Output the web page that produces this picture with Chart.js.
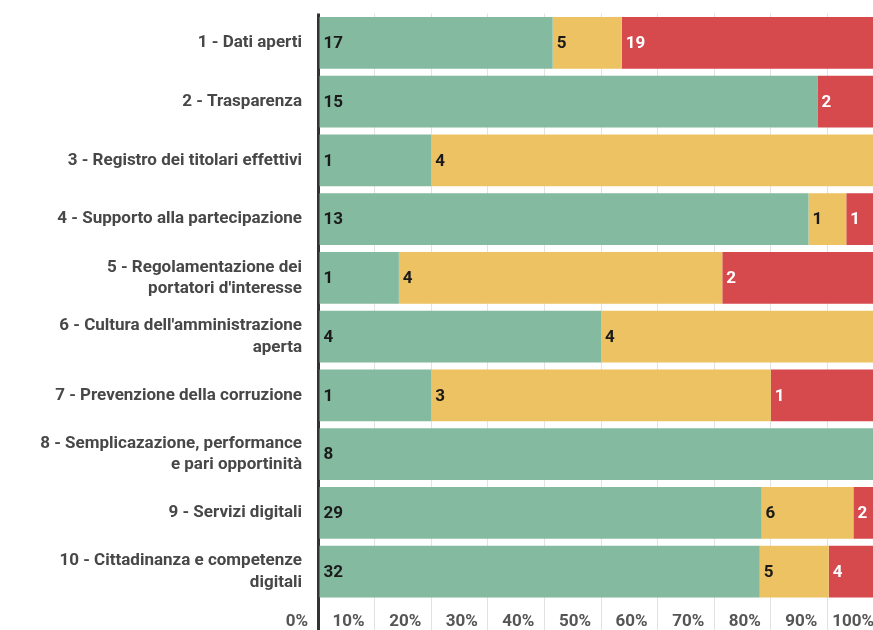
<!DOCTYPE html>
<html>
<head>
<meta charset="utf-8">
<script src="https://cdn.jsdelivr.net/npm/chart.js@4"></script>
<style>
  html, body { margin: 0; padding: 0; background: #fff; }
  #wrap { width: 873px; height: 630px; overflow: hidden; position: relative; }
  #box { width: 890px; height: 630px; position: absolute; left: 0; top: 0; }
</style>
</head>
<body>
<div id="wrap"><div id="box"><canvas id="grafico"></canvas></div></div>
<script>
// dati del grafico
const categorie = [
  '1 - Dati aperti',
  '2 - Trasparenza',
  '3 - Registro dei titolari effettivi',
  '4 - Supporto alla partecipazione',
  ['5 - Regolamentazione dei', "portatori d'interesse"],
  ["6 - Cultura dell'amministrazione", 'aperta'],
  '7 - Prevenzione della corruzione',
  ['8 - Semplicazazione, performance', 'e pari opportinità'],
  '9 - Servizi digitali',
  ['10 - Cittadinanza e competenze', 'digitali']
];
const verdi = [17, 15, 1, 13, 1, 4, 1, 8, 29, 32];
const gialli = [5, 0, 4, 1, 4, 4, 3, 0, 6, 5];
const rossi = [19, 2, 0, 1, 2, 0, 1, 0, 2, 4];
const tickPercentuali = [0, 10, 20, 30, 40, 50, 60, 70, 80, 90, 100];

const totali = verdi.map((v, i) => v + gialli[i] + rossi[i]);
const perc = arr => arr.map((v, i) => v / totali[i] * 100);

const colori = ['#84ba9f', '#edc263', '#d6494d'];
const coloriTesto = ['#1a1a1a', '#1a1a1a', '#ffffff'];

// etichette con il conteggio all'inizio di ogni segmento
const etichette = {
  id: 'etichette',
  afterDatasetsDraw(chart) {
    const ctx = chart.ctx;
    ctx.save();
    ctx.font = 'bold 17px Roboto';
    ctx.textAlign = 'left';
    ctx.textBaseline = 'middle';
    chart.data.datasets.forEach((ds, di) => {
      const meta = chart.getDatasetMeta(di);
      meta.data.forEach((bar, i) => {
        const n = ds.conteggi[i];
        if (!n) return;
        const p = bar.getProps(['x', 'y', 'base'], true);
        ctx.fillStyle = coloriTesto[di];
        ctx.fillText(String(n), Math.min(p.x, p.base) + 4, p.y + 1);
      });
    });
    ctx.restore();
  }
};

new Chart(document.getElementById('grafico'), {
  type: 'bar',
  data: {
    labels: categorie,
    datasets: [
      { data: perc(verdi), conteggi: verdi, backgroundColor: colori[0] },
      { data: perc(gialli), conteggi: gialli, backgroundColor: colori[1] },
      { data: perc(rossi), conteggi: rossi, backgroundColor: colori[2] }
    ]
  },
  options: {
    indexAxis: 'y',
    responsive: true,
    maintainAspectRatio: false,
    animation: false,
    layout: { padding: { top: 13.5, right: 6, left: 0, bottom: 0 } },
    datasets: { bar: { categoryPercentage: 1, barPercentage: 0.88 } },
    plugins: { legend: { display: false }, tooltip: { enabled: false } },
    scales: {
      x: {
        stacked: true,
        min: 0,
        max: 100,
        afterBuildTicks: s => { s.ticks = tickPercentuali.map(v => ({ value: v })); },
        afterFit: s => { s.height = 29; s.paddingLeft = 0; s.paddingRight = 0; },
        border: { display: false },
        grid: {
          color: c => c.index === 0 ? '#333333' : '#e2e2e2',
          lineWidth: c => c.index === 0 ? 3 : 1,
          tickLength: 30
        },
        ticks: {
          align: 'end',
          labelOffset: -10,
          padding: -19,
          color: '#555555',
          font: { family: 'Roboto', size: 17, weight: 'bold' },
          callback: v => v + '%'
        }
      },
      y: {
        stacked: true,
        afterFit: s => { s.width = 318; s.paddingTop = 0; s.paddingBottom = 0; },
        border: { display: false },
        grid: { display: false, drawTicks: false },
        ticks: {
          padding: 16,
          color: '#474747',
          font: { family: 'Roboto', size: 17, weight: 'bold', lineHeight: 1.25 }
        }
      }
    }
  },
  plugins: [etichette]
});
</script>
</body>
</html>
